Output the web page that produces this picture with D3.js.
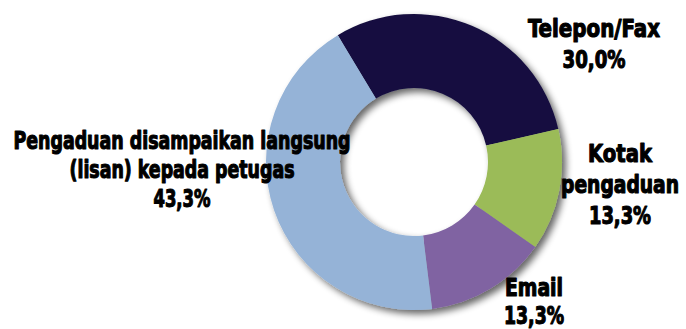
<!DOCTYPE html>
<html>
<head>
<meta charset="utf-8">
<script src="https://cdn.jsdelivr.net/npm/d3@7"></script>
<style>
  html, body { margin: 0; padding: 0; background: #fff; }
  svg { display: block; }
  .lbl { font-family: "Liberation Sans Narrow", "Arial Narrow", "DejaVu Sans Condensed", sans-serif; font-weight: bold; fill: #000; stroke: #000; stroke-width: 1.1px; stroke-linejoin: round; paint-order: stroke; }
</style>
</head>
<body>
<svg id="chart" width="686" height="329"></svg>
<script>
// Complaint channels and their share (%)
const categories = ["Telepon/Fax", "Kotak pengaduan", "Email", "Pengaduan disampaikan langsung (lisan) kepada petugas"];
const values = [30.0, 13.3, 13.3, 43.3];
const valueLabels = ["30,0%", "13,3%", "13,3%", "43,3%"];
const colors = ["#16113f", "#9bbb59", "#8064a2", "#95b3d7"];
// Wrapped category text, one entry per line
const labelLines = [
  ["Telepon/Fax"],
  ["Kotak", "pengaduan"],
  ["Email"],
  ["Pengaduan disampaikan langsung", "(lisan) kepada petugas"]
];

const width = 686, height = 329;
const cx = 414, cy = 162, outerR = 148, innerR = 74;

const svg = d3.select("#chart");

// soft drop shadow under the ring
const defs = svg.append("defs");
const f = defs.append("filter").attr("id", "shadow")
  .attr("x", "-20%").attr("y", "-20%").attr("width", "140%").attr("height", "140%");
f.append("feGaussianBlur").attr("in", "SourceAlpha").attr("stdDeviation", 3.5).attr("result", "b");
f.append("feOffset").attr("in", "b").attr("dx", 4).attr("dy", 4).attr("result", "o");
f.append("feComponentTransfer").attr("in", "o").attr("result", "s")
  .append("feFuncA").attr("type", "linear").attr("slope", 0.6);
const m = f.append("feMerge");
m.append("feMergeNode").attr("in", "s");
m.append("feMergeNode").attr("in", "SourceGraphic");

const pie = d3.pie().sort(null).value(d => d)
  .startAngle(-31 * Math.PI / 180)
  .endAngle(-31 * Math.PI / 180 + 2 * Math.PI);
const arc = d3.arc().innerRadius(innerR).outerRadius(outerR);

const ring = svg.append("g")
  .attr("transform", `translate(${cx},${cy})`)
  .attr("filter", "url(#shadow)");

ring.selectAll("path")
  .data(pie(values))
  .join("path")
  .attr("d", arc)
  .attr("fill", (d, i) => colors[i]);

// Label placement: centre x, first baseline, line step, and text widths
const labelLayout = [
  { x: 594, y: 37, step: 31, widths: [132], valueWidth: 63 },
  { x: 620, y: 162, step: 31, widths: [64, 118], valueWidth: 62 },
  { x: 534, y: 296, step: 28, widths: [58], valueWidth: 60 },
  { x: 182, y: 149, step: 29, widths: [337, 225], valueWidth: 57 }
];

categories.forEach((c, i) => {
  const L = labelLayout[i];
  const g = svg.append("g").attr("class", "label");
  const lines = labelLines[i].map((t, j) => ({ t, w: L.widths[j] }))
    .concat([{ t: valueLabels[i], w: L.valueWidth }]);
  lines.forEach((ln, j) => {
    g.append("text")
      .attr("class", "lbl")
      .attr("x", L.x - ln.w / 2)
      .attr("y", L.y + j * L.step)
      .attr("font-size", 24)
      .attr("textLength", ln.w)
      .attr("lengthAdjust", "spacingAndGlyphs")
      .text(ln.t);
  });
});
</script>
</body>
</html>
